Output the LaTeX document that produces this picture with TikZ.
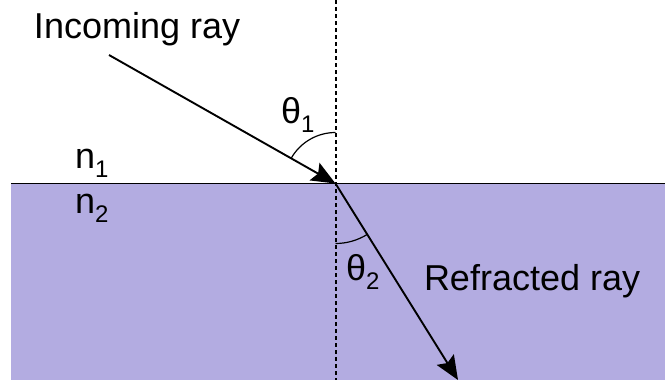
\documentclass[tikz,border=0pt]{standalone}
\usepackage{fontspec}
\setmainfont{Liberation Sans}
\usetikzlibrary{arrows.meta,calc}
\definecolor{medium}{RGB}{179,172,225}
\tikzset{
  lbl/.style={anchor=base west, inner sep=0pt, outer sep=0pt, font=\fontsize{36}{40}\selectfont},
  ray/.style={line width=1.9pt, -{Stealth[length=24pt,width=20pt,inset=4pt]}},
  normal/.style={line width=1.3pt, dash pattern=on 4pt off 3pt},
  anglearc/.style={line width=1.2pt}
}
\newcommand{\sbs}[1]{\raisebox{-9pt}{\fontsize{24}{28}\selectfont #1}}
\begin{document}
\begin{tikzpicture}[x=1pt,y=-1pt]
\useasboundingbox (0,0) rectangle (665,380);
\fill[medium] (11,183.5) rectangle (665,380);
\coordinate (ifl) at (11,183.5);
\coordinate (ifr) at (665,183.5);
\draw[line width=1.4pt] (ifl) -- (ifr);
\coordinate (ntop) at (336,0);
\coordinate (nbot) at (336,380);
\draw[normal] (ntop) -- (nbot);
\coordinate (src) at (109,55);
\coordinate (hit) at (335.5,183.5);
\coordinate (dst) at (458,380);
\draw[ray] (src) -- (hit);
\draw[ray] (hit) -- (dst);
\draw[anglearc] ($(hit)+(90:51pt)$) arc[start angle=90,end angle=150.3,radius=51pt];
\draw[anglearc] ($(hit)+(270:60pt)$) arc[start angle=270,end angle=302,radius=60pt];
\node[lbl] (tin) at (34,38) {Incoming ray};
\node[lbl] (tout) at (424,290) {Refracted ray};
\node[lbl] (n1) at (75,168) {n\sbs{1}};
\node[lbl] (n2) at (75,213) {n\sbs{2}};
\node[lbl] (t1) at (281,123) {θ\sbs{1}};
\node[lbl] (t2) at (346,280) {θ\sbs{2}};
\end{tikzpicture}
\end{document}
